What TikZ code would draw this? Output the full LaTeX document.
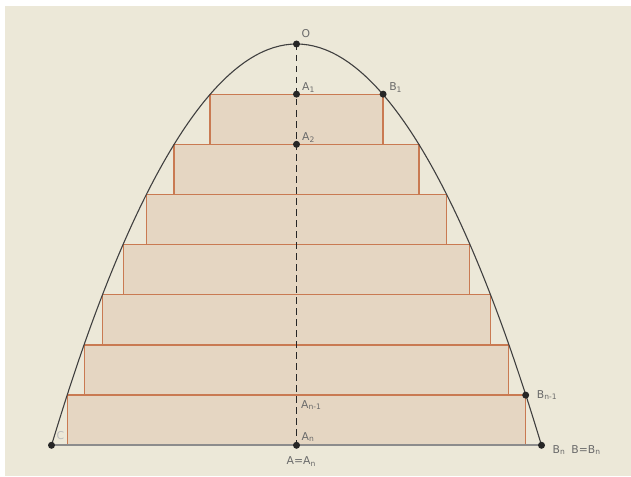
\documentclass[tikz,border=0pt]{standalone}
\usepackage{fontspec}
\setmainfont{DejaVu Sans}
\usetikzlibrary{positioning}
\definecolor{paper}{HTML}{ECE8D8}
\definecolor{slab}{HTML}{E5D6C2}
\definecolor{slabedge}{HTML}{C97A52}
\definecolor{lblgray}{HTML}{6A6A6A}
\tikzset{
  dot/.style={circle, fill=black!85, inner sep=0pt, minimum size=7pt},
  lbl/.style={text=lblgray, inner sep=0pt, anchor=base west, font=\fontsize{10.8}{12}\selectfont},
  slabbox/.style={fill=slab, draw=slabedge, line width=1.3pt},
}

\begin{document}
\begin{tikzpicture}[x=1pt, y=-1pt]
  \fill[white] (0,0) rectangle (631,476);
  \fill[paper] (5,6) rectangle (631,476);
  % slabs between equally spaced levels, half width 245*sqrt(i/8)
  \foreach \i in {1,...,7}{
    \pgfmathsetmacro\w{245*sqrt(\i/8)}
    \draw[slabbox] ({296.5-\w},{44+\i*50.16}) rectangle ({296.5+\w},{44+(\i+1)*50.16});
  }
  \coordinate (O) at (296.5,44);
  \coordinate (A1) at (296.5,94.16);
  \coordinate (A2) at (296.5,144.32);
  \coordinate (An1) at (296.5,395.12);
  \coordinate (An) at (296.5,445.28);
  \coordinate (B1) at (383.1,94.16);
  \coordinate (Bn1) at (525.7,395.12);
  \coordinate (C) at (51.5,445.28);
  \coordinate (Bn) at (541.5,445.28);
  \draw[black!75, line width=1.1pt] (C) parabola bend (O) (Bn);
  \draw[black!85, line width=1pt, dash pattern=on 6.5pt off 4.5pt] (O) -- (An);
  \draw[black!45, line width=1.6pt] (C) -- (Bn);
  \foreach \p in {O,A1,A2,An,B1,Bn1,C,Bn}
    \node[dot] (d\p) at (\p) {};
  \node[lbl] (lO) at ([xshift=5pt, yshift=6pt]O) {O};
  \node[lbl] (lA1) at ([xshift=5.5pt, yshift=3.7pt]A1) {A\textsubscript{1}};
  \node[lbl] (lB1) at ([xshift=6pt, yshift=3.5pt]B1) {B\textsubscript{1}};
  \node[lbl] (lA2) at ([xshift=5.5pt, yshift=4pt]A2) {A\textsubscript{2}};
  \node[lbl] (lAn1) at ([xshift=4.5pt, yshift=-13pt]An1) {A\textsubscript{n-1}};
  \node[lbl] (lAn) at ([xshift=5pt, yshift=5pt]An) {A\textsubscript{n}};
  \node[lbl] (lA) at ([xshift=-10pt, yshift=-19.5pt]An) {A=A\textsubscript{n}};
  \node[lbl] (lBn1) at ([xshift=11pt, yshift=-3pt]Bn1) {B\textsubscript{n-1}};
  \node[lbl] (lBn) at ([xshift=11pt, yshift=-8pt]Bn) {B\textsubscript{n}\hspace{6pt}B=B\textsubscript{n}};
  \node[lbl, text=lblgray!45] (lC) at ([xshift=5pt, yshift=6pt]C) {C};
\end{tikzpicture}
\end{document}
